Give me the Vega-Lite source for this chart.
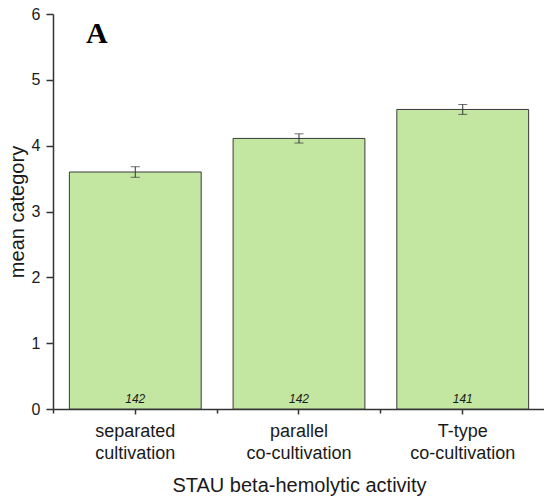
{
  "$schema": "https://vega.github.io/schema/vega-lite/v6.json",
  "width": 492,
  "height": 395,
  "autosize": {"type": "none"},
  "padding": {"left": 53, "top": 14, "right": 0, "bottom": 90},
  "config": {"view": {"stroke": null}, "font": "Liberation Sans"},
  "title": {"text": "A", "orient": "top", "anchor": "start", "frame": "group", "font": "Liberation Serif", "fontSize": 30, "fontWeight": "bold", "color": "#000000", "dx": 33, "offset": -67, "baseline": "alphabetic"},
  "data": {"values": [
    {"cond": "separated cultivation", "mean": 3.60, "err": 0.08, "n": 142},
    {"cond": "parallel co-cultivation", "mean": 4.11, "err": 0.07, "n": 142},
    {"cond": "T-type co-cultivation", "mean": 4.55, "err": 0.075, "n": 141}
  ]},
  "resolve": {"axis": {"x": "independent"}},
  "layer": [
    {
      "mark": {"type": "bar", "fill": "#c3e6a1", "stroke": "#3a3a3a", "strokeWidth": 1},
      "encoding": {
        "x": {"field": "cond", "type": "nominal", "sort": null,
          "scale": {"paddingInner": 0.195, "paddingOuter": 0.1},
          "axis": {"orient": "bottom", "title": "STAU beta-hemolytic activity", "titleFontSize": 20, "titleFontWeight": "normal", "titleColor": "#1a1a1a", "titlePadding": 13,
            "labelExpr": "split(datum.value, ' ')", "labelAngle": 0, "labelFontSize": 18, "labelLineHeight": 22, "labelColor": "#1a1a1a", "labelPadding": 8,
            "tickSize": 5, "tickColor": "#333333", "tickWidth": 1.5, "domainColor": "#333333", "domainWidth": 1.5}},
        "y": {"field": "mean", "type": "quantitative", "title": "mean category", "scale": {"domain": [0, 6]},
          "axis": {"title": "mean category", "titleFontSize": 20, "titleFontWeight": "normal", "titleColor": "#1a1a1a", "titlePadding": 4,
            "values": [0, 0.5, 1, 1.5, 2, 2.5, 3, 3.5, 4, 4.5, 5, 5.5, 6],
            "format": ".0f",
            "labelExpr": "datum.value % 1 === 0 ? datum.label : ''",
            "labelFontSize": 16, "labelColor": "#1a1a1a", "labelPadding": 6,
            "tickSize": {"condition": {"test": "datum.value % 1 !== 0", "value": 3.5}, "value": 7},
            "tickColor": "#333333", "tickWidth": 1.5, "domainColor": "#333333", "domainWidth": 1.5, "grid": false}}
      }
    },
    {
      "mark": {"type": "errorbar", "ticks": {"size": 9, "color": "#333333"}, "rule": {"color": "#333333"}, "color": "#333333"},
      "encoding": {
        "x": {"field": "cond", "type": "nominal", "sort": null, "axis": null},
        "y": {"field": "mean", "type": "quantitative", "title": "mean category"},
        "yError": {"field": "err"}
      }
    },
    {
      "mark": {"type": "text", "fontStyle": "italic", "fontSize": 12, "baseline": "middle", "dy": -10, "color": "#1a1a1a"},
      "encoding": {
        "x": {"field": "cond", "type": "nominal", "sort": null,
          "axis": {"orient": "bottom", "bandPosition": -0.121, "labels": false, "domain": false, "title": null, "tickSize": 4, "tickColor": "#333333", "tickWidth": 1.5}},
        "y": {"datum": 0},
        "text": {"field": "n"}
      }
    }
  ]
}
